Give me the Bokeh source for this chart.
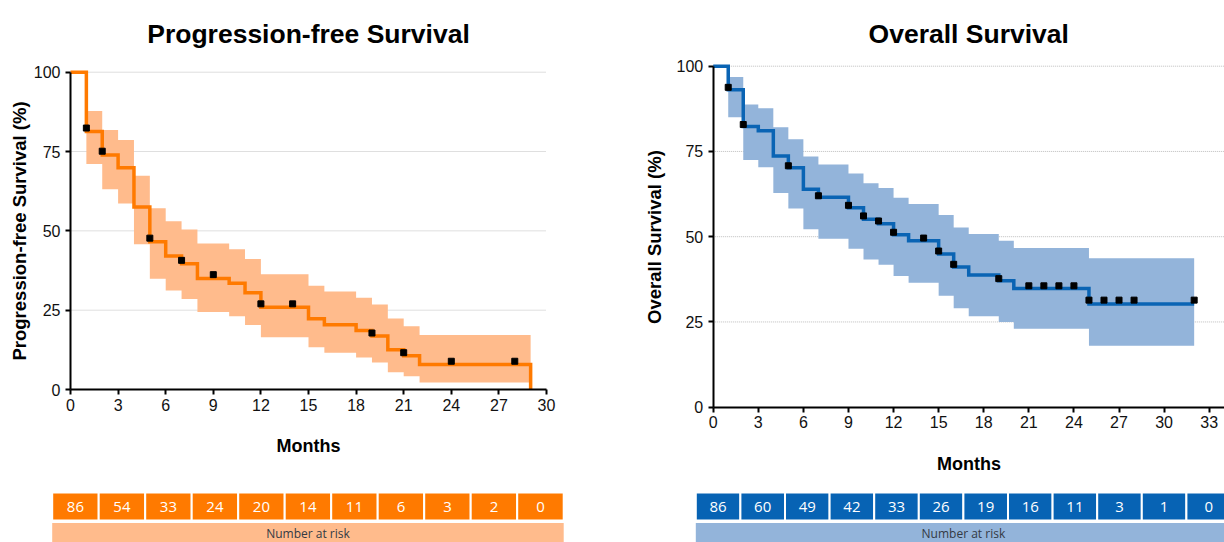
from bokeh.plotting import figure
from bokeh.models import Range1d, FixedTicker, ColumnDataSource, LinearAxis, Grid
from bokeh.embed import file_html
from bokeh.resources import INLINE
from bokeh.core.properties import value

# ---------------- data ----------------
pfs_time = [0, 1, 2, 3, 4, 5, 6, 7, 8, 10, 11, 12, 15, 16, 18, 19, 20, 21, 22, 29]
pfs_surv = [100, 81.3, 73.9, 69.9, 57.5, 46.6, 42.1, 39.6, 35.0, 33.5, 30.5, 25.9,
            22.3, 20.4, 18.6, 16.9, 12.5, 10.6, 7.9, 0]
pfs_upper = [100, 87.8, 81.8, 78.6, 67.4, 57.1, 53.0, 50.4, 46.0, 44.2, 41.1, 36.3,
             32.7, 30.9, 28.9, 26.8, 22.4, 19.9, 17.2, 17.2]
pfs_lower = [100, 71.1, 63.1, 58.6, 45.8, 34.9, 31.2, 28.5, 24.4, 23.1, 20.3, 16.5,
             13.3, 11.6, 10.1, 8.5, 5.4, 4.2, 2.2, 2.2]
pfs_censor_time = [1, 2, 5, 7, 9, 12, 14, 19, 21, 24, 28]
pfs_censor_surv = [82.4, 75.1, 47.7, 40.7, 36.2, 27.0, 27.0, 17.8, 11.6, 8.9, 8.9]
pfs_risk = [86, 54, 33, 24, 20, 14, 11, 6, 3, 2, 0]

os_time = [0, 1, 2, 3, 4, 5, 6, 7, 9, 10, 11, 12, 13, 15, 16, 17, 19, 20, 25, 32]
os_surv = [100, 93.1, 82.3, 81.1, 73.7, 70.2, 63.9, 61.6, 58.5, 55.1, 53.8, 50.6,
           48.8, 44.9, 41.1, 38.8, 37.1, 34.8, 30.3, 30.3]
os_upper = [100, 96.8, 88.8, 87.7, 82.1, 78.6, 73.5, 71.2, 68.5, 65.7, 64.3, 61.4,
            59.6, 56.4, 52.7, 50.8, 48.8, 46.7, 43.7, 43.7]
os_lower = [100, 85.0, 72.5, 70.4, 62.8, 58.3, 52.2, 49.4, 46.5, 43.3, 41.8, 38.5,
            36.5, 32.7, 29.0, 26.7, 25.0, 23.0, 18.0, 18.0]
os_censor_time = [1, 2, 5, 7, 9, 10, 11, 12, 14, 15, 16, 19, 21, 22, 23, 24, 25, 26, 27, 28, 32]
os_censor_surv = [93.8, 82.9, 70.8, 62.0, 59.2, 56.1, 54.6, 51.3, 49.6, 45.8, 41.9, 37.7,
                  35.6, 35.6, 35.6, 35.6, 31.4, 31.4, 31.4, 31.4, 31.4]
os_risk = [86, 60, 49, 42, 33, 26, 19, 16, 11, 3, 1, 0]

pfs_xticks = [0, 3, 6, 9, 12, 15, 18, 21, 24, 27, 30]
os_xticks = [0, 3, 6, 9, 12, 15, 18, 21, 24, 27, 30, 33]
y_ticks = [0, 25, 50, 75, 100]
grid_ticks = [25, 50, 75, 100]

pfs_title = "Progression-free Survival"
pfs_ylabel = "Progression-free Survival (%)"
os_title = "Overall Survival"
os_ylabel = "Overall Survival (%)"
x_label = "Months"
risk_label = "Number at risk"

# ---------------- styles / layout ----------------
FONT = "Liberation Sans"
ORANGE = "#FF7A00"
ORANGE_BAND = "#FFBB8C"
BLUE = "#0A64B4"
BLUE_BAND = "#93B4DA"
BLUE_TABLE = "#0763B4"

W, H = 1224, 542           # figure size (page pixels)


def anchored(v0, p0, v1, p1, lo, hi):
    k = (v1 - v0) / (p1 - p0)
    return Range1d(v0 + (lo - p0) * k, v0 + (hi - p0) * k)


p = figure(width=W, height=H,
           x_range=Range1d(0, W), y_range=Range1d(H, 0),
           output_backend="svg", toolbar_location=None, min_border=0,
           x_axis_location=None, y_axis_location=None)
p.outline_line_color = None
p.background_fill_color = "white"
p.border_fill_color = "white"
for r in list(p.renderers) + list(p.center):
    if isinstance(r, Grid):
        r.visible = False
p.center = [c for c in p.center if not isinstance(c, Grid)]

p.extra_x_ranges = {
    "pfs_x": anchored(0, 70.0, 30, 546.0, 0, W),
    "os_x": anchored(0, 712.7, 33, 1208.7, 0, W),
    "ltab": anchored(0, 51.7, 11, 563.2, 0, W),
    "rtab": anchored(0, 695.3, 12, 1230.5, 0, W),
}
p.extra_y_ranges = {
    "pfs_y": anchored(0, 389.0, 100, 71.7, H, 0),
    "os_y": anchored(0, 406.7, 100, 65.7, H, 0),
}


def km_chart(xr, yr, time, surv, upper, lower, ct, cs, xticks, xmax, gx_end,
             title, title_x, ylabel, line_color, band_color, ylabel_standoff):
    kw = dict(x_range_name=xr, y_range_name=yr)
    n = len(grid_ticks)
    p.segment(x0=[0] * n, x1=[gx_end] * n, y0=grid_ticks, y1=grid_ticks,
              line_color="#BDBDBD", line_width=1, line_dash="1 1", **kw)
    p.varea_step(x=time, y1=lower, y2=upper, step_mode="after",
                 fill_color=band_color, fill_alpha=1.0, **kw)
    p.step(x=time, y=surv, mode="after", line_color=line_color,
           line_width=3.5, line_join="miter", **kw)
    p.scatter(x=ct, y=cs, marker="square", size=6,
              fill_color="black", line_color="black", **kw)

    # title (x in chart units, y in page pixels)
    p.text(x=[title_x], y=[33.3], text=[title], x_range_name=xr,
           text_font=value(FONT), text_font_size="26.5px", text_font_style="bold",
           text_color="#000000", text_align="center", text_baseline="alphabetic")

    yax = LinearAxis(fixed_location=0, bounds=(0, 100),
                     ticker=FixedTicker(ticks=y_ticks), axis_label=ylabel, **kw)
    xax = LinearAxis(fixed_location=0, bounds=(0, xmax),
                     ticker=FixedTicker(ticks=xticks), axis_label=x_label, **kw)
    for ax in (xax, yax):
        ax.axis_line_color = "black"
        ax.axis_line_width = 2
        ax.major_tick_line_color = "black"
        ax.major_tick_line_width = 2
        ax.major_tick_out = 5
        ax.major_tick_in = 0
        ax.minor_tick_line_color = None
        ax.major_label_text_font = FONT
        ax.major_label_text_font_size = "16px"
        ax.major_label_text_color = "#111111"
        ax.axis_label_text_font = FONT
        ax.axis_label_text_font_style = "bold"
        ax.axis_label_text_color = "#000000"
    yax.axis_label_text_font_size = "18.5px"
    xax.axis_label_text_font_size = "18px"
    yax.major_label_standoff = 5
    yax.axis_label_standoff = ylabel_standoff
    xax.major_label_standoff = 4
    xax.axis_label_standoff = 22
    p.add_layout(yax, "left")
    p.add_layout(xax, "below")


def risk_table(xr, counts, dark, light):
    n = len(counts)
    idx = list(range(n))
    src = ColumnDataSource(dict(
        left=idx, right=[i + 1 for i in idx],
        xc=[i + 0.5 for i in idx], txt=[str(c) for c in counts]))
    p.quad(left="left", right="right", top=492, bottom=520, source=src,
           fill_color=dark, line_color="white", line_width=2, x_range_name=xr)
    p.quad(left=[0], right=[n], top=[522.5], bottom=[548],
           fill_color=light, line_color=None, x_range_name=xr)
    p.text(x="xc", y=506, text="txt", source=src, text_color="white",
           text_align="center", text_baseline="middle",
           text_font=value("Open Sans"), text_font_size="15px", x_range_name=xr)
    p.text(x=[n / 2], y=[533], text=[risk_label], text_color="#333a44",
           text_align="center", text_baseline="middle",
           text_font=value("Open Sans"), text_font_size="12px", x_range_name=xr)


km_chart("pfs_x", "pfs_y", pfs_time, pfs_surv, pfs_upper, pfs_lower,
         pfs_censor_time, pfs_censor_surv, pfs_xticks, 30, 30,
         pfs_title, 15, pfs_ylabel, ORANGE, ORANGE_BAND, ylabel_standoff=1)
km_chart("os_x", "os_y", os_time, os_surv, os_upper, os_lower,
         os_censor_time, os_censor_surv, os_xticks, 34, 34,
         os_title, 17, os_ylabel, BLUE, BLUE_BAND, ylabel_standoff=9)

risk_table("ltab", pfs_risk, ORANGE, ORANGE_BAND)
risk_table("rtab", os_risk, BLUE_TABLE, BLUE_BAND)

open("out.html", "w").write(file_html(p, INLINE))
